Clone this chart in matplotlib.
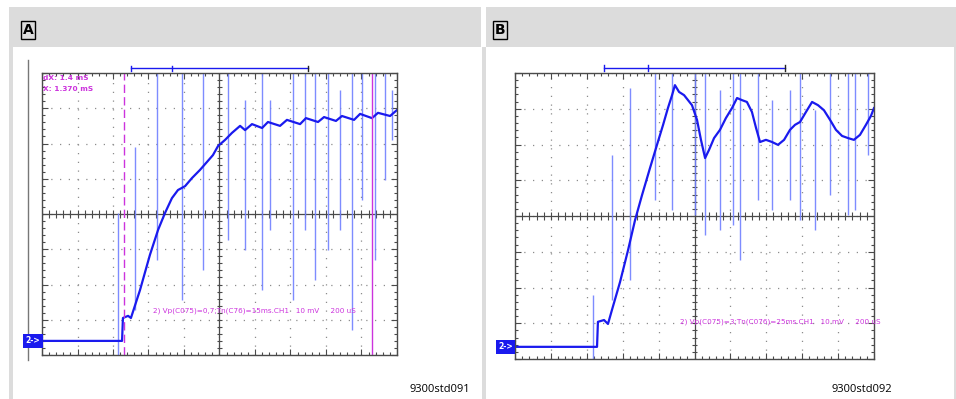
import numpy as np
from matplotlib import pyplot as plt
from matplotlib.patches import Rectangle

# time in uS (200 uS/div), level in mV (10 mV/div)
a_t = [0, 451, 456, 485, 501, 552, 608, 654, 693, 732, 766, 806, 845, 890, 930, 963,
       992, 1031, 1070, 1116, 1144, 1183, 1240, 1273, 1341, 1380, 1454, 1487, 1555,
       1589, 1656, 1690, 1758, 1792, 1859, 1893, 1961, 2000]
a_v = [-36.0, -36.0, -29.5, -28.9, -29.5, -21.6, -11.6, -4.5, 0.3, 4.5, 6.8, 7.9, 10.2,
       12.5, 14.8, 16.7, 19.3, 21.0, 23.0, 25.0, 23.8, 25.5, 24.4, 26.1, 25.0, 26.7,
       25.5, 27.2, 26.1, 27.5, 26.4, 27.8, 26.7, 28.4, 27.2, 28.7, 27.8, 29.5]
a_spk_t = [428, 524, 648, 789, 907, 1048, 1144, 1240, 1285, 1414, 1482, 1538, 1611,
           1679, 1747, 1803, 1876, 1932, 1972]
a_spk_hi = [0.3, 19.0, 40, 40, 40, 40, 32.3, 40, 32.3, 40, 40, 40, 40, 35.2, 40, 40, 40, 40, 35.2]
a_spk_lo = [-40, -27.2, -13.0, -24.4, -15.9, -7.4, -10.2, -21.6, -4.5, -24.4, -4.5,
            -18.7, -10.2, -4.5, -32.9, 4.0, -13.0, 9.6, 21.0]

b_t = [0, 457, 462, 496, 518, 540, 585, 630, 669, 708, 752, 791, 825, 852, 875, 891,
       914, 942, 964, 986, 1014, 1036, 1059, 1081, 1109, 1142, 1175, 1209, 1237, 1265,
       1292, 1320, 1343, 1365, 1398, 1432, 1465, 1499, 1532, 1560, 1588, 1621, 1655,
       1688, 1721, 1755, 1788, 1822, 1855, 1888, 1922, 1955, 1983, 2000]
b_v = [-36.6, -36.6, -29.6, -29.1, -30.2, -26.3, -18.5, -9.5, -1.1, 5.9, 13.4, 19.9,
       25.5, 30.2, 33.8, 36.6, 34.7, 33.8, 32.4, 31.0, 26.9, 21.3, 16.2, 18.5, 21.8,
       24.1, 27.4, 30.2, 33.0, 32.4, 31.9, 29.1, 24.6, 20.7, 21.3, 20.7, 19.9, 21.3,
       24.1, 25.5, 26.3, 29.1, 31.9, 31.0, 29.6, 26.9, 24.1, 22.4, 21.8, 21.3, 22.7,
       25.5, 28.0, 30.2]
b_spk_t = [435, 540, 641, 780, 875, 1003, 1059, 1142, 1214, 1253, 1354, 1432, 1532,
           1588, 1671, 1755, 1855, 1894, 1967]
b_spk_hi = [-22.1, 17.1, 35.8, 40, 40, 40, 40, 35.2, 40, 40, 40, 32.4, 35.2, 40, 29.6, 40, 40, 40, 40]
b_spk_lo = [-40, -23.5, -17.9, 4.5, 1.7, 0.3, -5.3, -3.9, -2.5, -12.3, 4.5, 1.7, 4.5,
            -1.1, -3.9, 5.9, 0.3, 1.7, 17.1]

GRAY = '#dcdcdc'
TRACE = '#1a1aee'
SPIKE = '#7080ff'
MAG = '#cc33dd'
FRAME = '#4a4a4a'

fig = plt.figure(figsize=(9.56, 3.99), dpi=100)
bg = fig.add_axes([0, 0, 1, 1], zorder=-1)
bg.set_xlim(0, 956)
bg.set_ylim(399, 0)
bg.axis('off')

# page layout
bg.add_patch(Rectangle((9, 7), 472, 40, color=GRAY, lw=0))
bg.add_patch(Rectangle((486, 7), 470, 40, color=GRAY, lw=0))
bg.add_patch(Rectangle((9, 47), 4, 352, color=GRAY, lw=0))
bg.add_patch(Rectangle((482, 47), 4, 352, color=GRAY, lw=0))
bg.add_patch(Rectangle((954, 47), 2, 352, color=GRAY, lw=0))
bg.plot([28, 28], [60, 360], color='#777777', lw=1)
for x, lab in [(28, 'A'), (500, 'B')]:
    bg.text(x, 30, lab, ha='center', va='center', fontsize=10, fontweight='bold',
            bbox=dict(boxstyle='square,pad=0.15', fc=GRAY, ec='black', lw=1))
bg.text(470, 389, '9300std091', ha='right', va='center', fontsize=8, family='Open Sans')
bg.text(892, 389, '9300std092', ha='right', va='center', fontsize=8, family='Open Sans')


def scope(rect, t, v, st, shi, slo, ruler, mark, gnd, label, mtxt_pos):
    ax = fig.add_axes(rect)
    ax.set_xlim(0, 2000)
    ax.set_ylim(-40, 40)
    ax.set_xticks(np.arange(0, 2001, 200))
    ax.set_xticks(np.arange(0, 2001, 40), minor=True)
    ax.set_yticks(np.arange(-40, 41, 10))
    ax.set_yticks(np.arange(-40, 41, 2), minor=True)
    ax.tick_params(which='both', direction='in', top=True, right=True,
                   labelbottom=False, labelleft=False, color=FRAME, width=0.8)
    ax.tick_params(which='major', length=4)
    ax.tick_params(which='minor', length=2.5)
    for s in ax.spines.values():
        s.set_color(FRAME)
        s.set_linewidth(1)
    ax.grid(True, which='major', color='#8c8c8c', linestyle=(0, (1, 6)), lw=0.9)
    ax.axhline(0, color=FRAME, lw=0.9)
    ax.axvline(1000, color=FRAME, lw=0.9)
    ax.vlines(np.arange(0, 2001, 40), -1, 1, color=FRAME, lw=0.8)
    ax.hlines(np.arange(-40, 41, 2), 985, 1015, color=FRAME, lw=0.8)

    ax.vlines(st, slo, shi, color=SPIKE, lw=1.0, alpha=0.9)
    ax.plot(t, v, color=TRACE, lw=1.6)

    # trigger ruler above the screen
    ax.plot(ruler, [41.3, 41.3], color=TRACE, lw=1, clip_on=False)
    ax.plot([ruler[0]] * 2, [40.5, 42.1], color=TRACE, lw=1, clip_on=False)
    ax.plot([ruler[1]] * 2, [40.5, 42.1], color='#222222', lw=1, clip_on=False)
    ax.plot([mark] * 2, [40.5, 42.1], color=TRACE, lw=1, clip_on=False)

    ax.text(-10, gnd, '2->', ha='right', va='center', fontsize=5.5, color='white',
            fontweight='bold', bbox=dict(boxstyle='square,pad=0.3', fc=TRACE, ec='none'))
    ax.text(mtxt_pos[0], mtxt_pos[1], label, ha='left', va='center', fontsize=5.2,
            color=MAG)
    return ax


axa = scope([42 / 956, 1 - 355 / 399, 355 / 956, 282 / 399], a_t, a_v, a_spk_t, a_spk_hi,
            a_spk_lo, [501, 1499], 732, -36.0,
            '2) Vp(C075)=0,7;Tn(C76)=15ms.CH1   10 mV     200 uS', (625, -27.5))
axa.axvline(462, color=MAG, lw=1, linestyle=(0, (6, 3)))
axa.axvline(1859, color=MAG, lw=1)
axa.text(8, 39.5, 'dX: 1.4 mS', fontsize=5.3, color=MAG, va='top', fontweight='bold')
axa.text(8, 36.4, 'X: 1.370 mS', fontsize=5.3, color=MAG, va='top', fontweight='bold')

axb = scope([515 / 956, 1 - 359 / 399, 359 / 956, 286 / 399], b_t, b_v, b_spk_t, b_spk_hi,
            b_spk_lo, [496, 1504], 741, -36.6,
            '2) Vp(C075)=3;Tn(C076)=25ms.CH1   10 mV     200 uS', (919, -29.6))

fig.savefig('out.png', dpi=100)
